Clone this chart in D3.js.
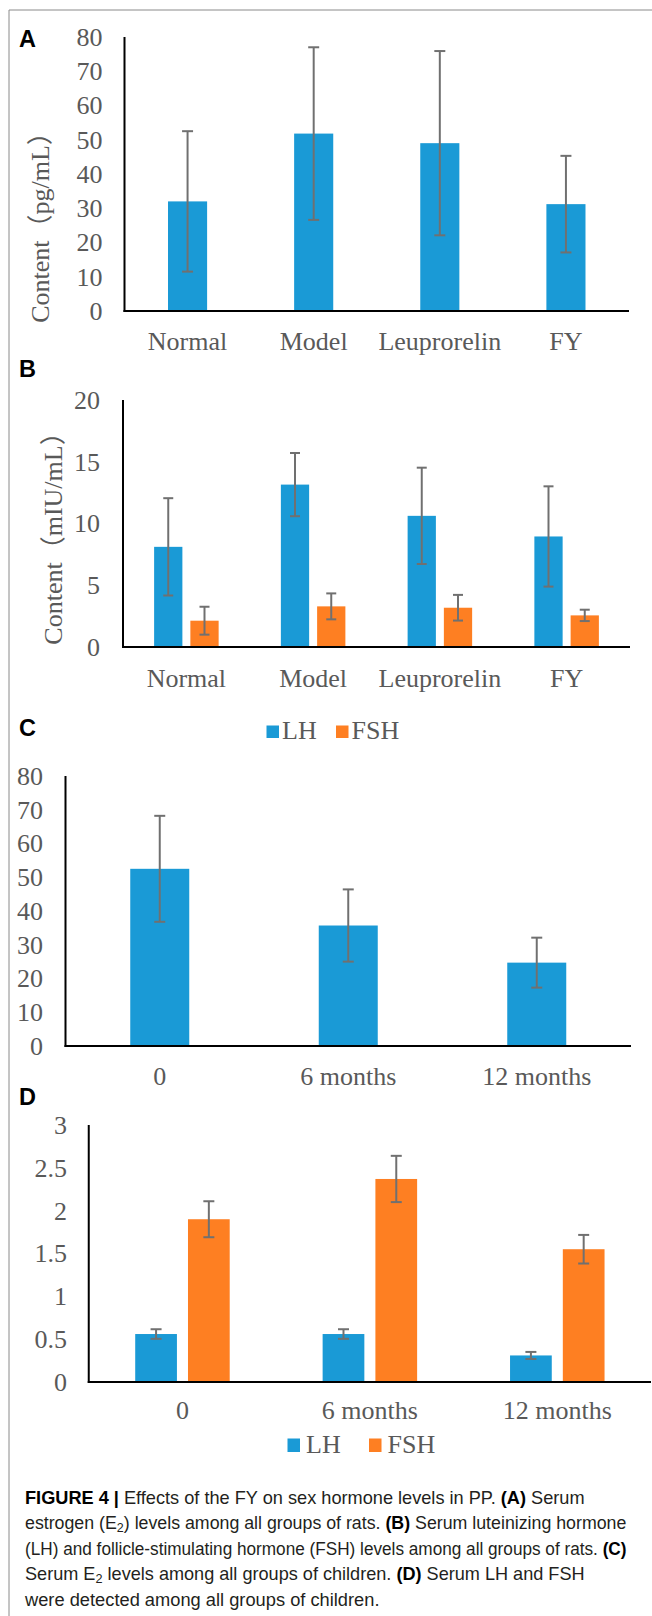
<!DOCTYPE html>
<html lang="en">
<head>
<meta charset="UTF-8">
<title>Figure 4</title>
<script src="https://cdn.jsdelivr.net/npm/d3@7"></script>
<style>
  body { margin: 0; background: #fff; }
  svg { display: block; }
</style>
</head>
<body>
<script>
// ---- data ----
var ratGroups = ["Normal", "Model", "Leuprorelin", "FY"];
var e2Rat = [32.0, 51.8, 49.0, 31.2];
var e2RatErr = [20.5, 25.2, 26.9, 14.1];
var lhRat = [8.11, 13.15, 10.62, 8.95];
var lhRatErr = [3.94, 2.56, 3.9, 4.06];
var fshRat = [2.13, 3.29, 3.18, 2.56];
var fshRatErr = [1.13, 1.05, 1.04, 0.46];

var timePoints = ["0", "6 months", "12 months"];
var e2Child = [52.5, 35.7, 24.7];
var e2ChildErr = [15.7, 10.7, 7.4];
var lhChild = [0.56, 0.56, 0.31];
var lhChildErr = [0.056, 0.056, 0.041];
var fshChild = [1.90, 2.37, 1.55];
var fshChildErr = [0.21, 0.27, 0.167];

var ticksA = [0, 10, 20, 30, 40, 50, 60, 70, 80];
var ticksB = [0, 5, 10, 15, 20];
var ticksC = [0, 10, 20, 30, 40, 50, 60, 70, 80];
var ticksD = [0, 0.5, 1, 1.5, 2, 2.5, 3];

var seriesNames = ["LH", "FSH"];

// ---- styles ----
var BLUE = "#1a9ad6", ORANGE = "#fe7f22", GREY = "#595959", ERR = "#707070";
var SERIF = "'Times New Roman', 'Liberation Serif', 'Noto Sans CJK SC', serif";
var SANS = "Arial, 'Liberation Sans', Helvetica, sans-serif";

var width = 652, height = 1616;
var svg = d3.select("body").append("svg")
    .attr("width", width)
    .attr("height", height);

// frame
svg.append("line").attr("x1", 9).attr("x2", width).attr("y1", 10).attr("y2", 10)
    .attr("stroke", "#8a8a8a").attr("stroke-width", 1);
svg.append("line").attr("x1", 9).attr("x2", 9).attr("y1", 10).attr("y2", height)
    .attr("stroke", "#8a8a8a").attr("stroke-width", 1);

function panelLetter(t, x, y) {
    svg.append("text").attr("x", x).attr("y", y).text(t)
        .attr("font-family", SANS).attr("font-weight", "bold")
        .attr("font-size", 23.5).attr("fill", "#000");
}

function drawPanel(p) {
    var x = d3.scaleBand().domain(p.cats).range([p.x0, p.x1]).padding(0);
    var y = d3.scaleLinear().domain([0, p.max]).range([p.y0, p.y1]);
    var g = svg.append("g");
    var bw = x.bandwidth() * p.barW;
    var gap = x.bandwidth() * (p.gap || 0);
    var n = p.series.length;

    p.series.forEach(function (s, si) {
        var off = n === 1 ? -bw / 2 : (si === 0 ? -gap / 2 - bw : gap / 2);
        g.selectAll(null).data(s.vals).enter().append("rect")
            .attr("x", function (d, i) { return x(p.cats[i]) + x.bandwidth() / 2 + off; })
            .attr("y", function (d) { return y(d); })
            .attr("width", bw)
            .attr("height", function (d) { return y(0) - y(d); })
            .attr("fill", s.color);
        var eb = g.selectAll(null).data(s.vals).enter().append("g")
            .attr("stroke", ERR).attr("stroke-width", 2);
        var cx = function (d, i) { return x(p.cats[i]) + x.bandwidth() / 2 + off + bw / 2; };
        eb.append("line")
            .attr("x1", cx).attr("x2", cx)
            .attr("y1", function (d, i) { return y(d + s.errs[i]); })
            .attr("y2", function (d, i) { return y(d - s.errs[i]); });
        [1, -1].forEach(function (sign) {
            eb.append("line")
                .attr("x1", function (d, i) { return cx(d, i) - p.cap / 2; })
                .attr("x2", function (d, i) { return cx(d, i) + p.cap / 2; })
                .attr("y1", function (d, i) { return y(d + sign * s.errs[i]); })
                .attr("y2", function (d, i) { return y(d + sign * s.errs[i]); });
        });
    });

    // axis lines
    g.append("line").attr("x1", p.x0).attr("x2", p.x0).attr("y1", y(p.max)).attr("y2", y(0) + 1)
        .attr("stroke", "#000").attr("stroke-width", 2);
    g.append("line").attr("x1", p.x0 - 1).attr("x2", p.x1).attr("y1", y(0)).attr("y2", y(0))
        .attr("stroke", "#000").attr("stroke-width", 2.2);

    // tick labels
    g.selectAll(null).data(p.ticks).enter().append("text")
        .attr("x", p.tickX)
        .attr("y", function (d) { return y(d); })
        .attr("dy", "0.34em")
        .attr("text-anchor", "end")
        .attr("font-family", SERIF).attr("font-size", 26).attr("fill", GREY)
        .text(function (d) { return d; });

    // category labels
    g.selectAll(null).data(p.cats).enter().append("text")
        .attr("x", function (d) { return x(d) + x.bandwidth() / 2; })
        .attr("y", p.labelY)
        .attr("text-anchor", "middle")
        .attr("font-family", SERIF).attr("font-size", 26).attr("fill", GREY)
        .text(function (d) { return d; });

    if (p.title) {
        g.append("text")
            .attr("transform", "translate(" + p.titleX + "," + p.titleY + ") rotate(-90)")
            .attr("text-anchor", "middle").attr("dy", "0.34em")
            .attr("font-family", SERIF).attr("font-size", 26).attr("fill", GREY)
            .text(p.title);
    }
}

function legend(items, y, sq, textGap, startX) {
    var lg = svg.append("g");
    items.forEach(function (it, i) {
        var lx = startX[i];
        lg.append("rect").attr("x", lx).attr("y", y - sq.h).attr("width", sq.w).attr("height", sq.h)
            .attr("fill", it.color);
        lg.append("text").attr("x", lx + sq.w + textGap).attr("y", y + 1)
            .attr("font-family", SERIF).attr("font-size", 26).attr("fill", GREY)
            .text(it.name);
    });
}

// ---- A ----
panelLetter("A", 19, 47);
drawPanel({
    x0: 124.5, x1: 629, y0: 311, y1: 37, max: 80, ticks: ticksA, tickX: 102.5,
    cats: ratGroups, labelY: 350, barW: 0.31, cap: 11,
    series: [{ vals: e2Rat, errs: e2RatErr, color: BLUE }],
    title: "Content（pg/mL）", titleX: 40, titleY: 221
});

// ---- B ----
panelLetter("B", 19, 377);
drawPanel({
    x0: 123, x1: 630, y0: 647, y1: 400, max: 20, ticks: ticksB, tickX: 100,
    cats: ratGroups, labelY: 687, barW: 0.223, gap: 0.063, cap: 10,
    series: [{ vals: lhRat, errs: lhRatErr, color: BLUE },
             { vals: fshRat, errs: fshRatErr, color: ORANGE }],
    title: "Content（mIU/mL）", titleX: 53, titleY: 532
});

// ---- C ----
panelLetter("C", 19, 736);
legend([{ name: seriesNames[0], color: BLUE }, { name: seriesNames[1], color: ORANGE }],
    738, { w: 12.5, h: 12.5 }, 3, [266.5, 336]);
drawPanel({
    x0: 65.5, x1: 631, y0: 1046, y1: 776, max: 80, ticks: ticksC, tickX: 43,
    cats: timePoints, labelY: 1085, barW: 0.313, cap: 11,
    series: [{ vals: e2Child, errs: e2ChildErr, color: BLUE }]
});

// ---- D ----
panelLetter("D", 19, 1105);
drawPanel({
    x0: 88.75, x1: 651, y0: 1382, y1: 1125, max: 3, ticks: ticksD, tickX: 67,
    cats: timePoints, labelY: 1419, barW: 0.2226, gap: 0.059, cap: 11,
    series: [{ vals: lhChild, errs: lhChildErr, color: BLUE },
             { vals: fshChild, errs: fshChildErr, color: ORANGE }]
});
legend([{ name: seriesNames[0], color: BLUE }, { name: seriesNames[1], color: ORANGE }],
    1452, { w: 12.5, h: 13.5 }, 6, [287.5, 369]);

// ---- caption ----
var capLines = [
    { w: 560, parts: [["FIGURE 4 | ", 1], ["Effects of the FY on sex hormone levels in PP. ", 0], ["(A)", 1], [" Serum", 0]] },
    { w: 602, parts: [["estrogen (E", 0], ["2", 2], [") levels among all groups of rats. ", 0], ["(B)", 1], [" Serum luteinizing hormone", 0]] },
    { w: 602, parts: [["(LH) and follicle-stimulating hormone (FSH) levels among all groups of rats. ", 0], ["(C)", 1]] },
    { w: 560, parts: [["Serum E", 0], ["2", 2], [" levels among all groups of children. ", 0], ["(D)", 1], [" Serum LH and FSH", 0]] },
    { w: 355, parts: [["were detected among all groups of children.", 0]] }
];
capLines.forEach(function (ln, i) {
    var by = 1504 + i * 25.4;
    var t = svg.append("text").attr("x", 0).attr("y", 0)
        .attr("font-family", SANS).attr("font-size", 18.5).attr("fill", "#231f20");
    ln.parts.forEach(function (pt) {
        var ts = t.append("tspan").text(pt[0]);
        if (pt[1] === 1) ts.attr("font-weight", "bold").attr("fill", "#000");
        if (pt[1] === 2) ts.attr("font-size", 13).attr("baseline-shift", "-25%");
    });
    var nat = t.node().getComputedTextLength();
    t.attr("transform", "translate(25," + by + ") scale(" + (ln.w / nat) + ",1)");
});
</script>
</body>
</html>
